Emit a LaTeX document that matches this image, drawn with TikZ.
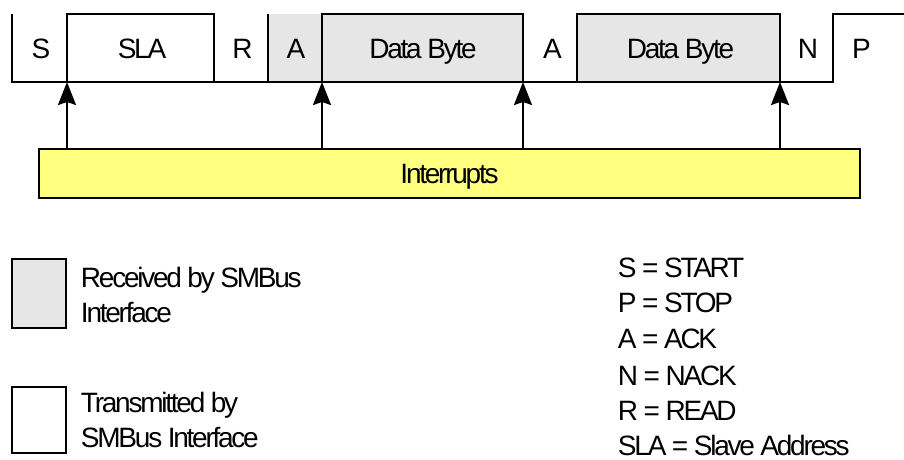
\documentclass[tikz,border=0pt]{standalone}
\usepackage{fontspec}
\setmainfont{Liberation Sans}[LetterSpace=-8]
\usetikzlibrary{arrows.meta}
\definecolor{rxgray}{RGB}{230,230,230}
\definecolor{irqyellow}{RGB}{255,255,128}
\begin{document}
\begin{tikzpicture}[x=1pt,y=-1pt,
  line width=1.9pt, line join=miter,
  lbl/.style={font=\fontsize{28}{34}\selectfont, inner sep=0pt, text height=20pt, text depth=0pt},
  legtxt/.style={lbl, anchor=west},
  arr/.style={-{Stealth[length=23pt,width=18pt,inset=3pt]}},
  irqbox/.style={draw, fill=irqyellow, lbl, minimum width=821pt, minimum height=49pt}
  ]
\useasboundingbox (0,0) rectangle (904,459);
% frame cells
\fill[rxgray] (268,14) rectangle (322,82);
\draw[fill=rxgray] (322,14) rectangle (523,82);
\draw[fill=rxgray] (577,14) rectangle (780,82);
\draw (67,14) rectangle (214,82);
\draw (12,14) -- (12,82) -- (833,82) -- (833,14) -- (906,14);
\draw (268,14) -- (268,82);
% cell labels
\node[lbl] (cS) at (41,48) {S};
\node[lbl] (cSLA) at (142,48) {SLA};
\node[lbl] (cR) at (242.5,48) {R};
\node[lbl] (cA1) at (296,48) {A};
\node[lbl] (cD1) at (423,48) {Data Byte};
\node[lbl] (cA2) at (552.5,48) {A};
\node[lbl] (cD2) at (680.5,48) {Data Byte};
\node[lbl] (cN) at (808,48) {N};
\node[lbl] (cP) at (861.5,48) {P};
% interrupts
\node[irqbox] (irq) at (449.5,173.5) {Interrupts};
\coordinate (t1) at (67,82);
\coordinate (t2) at (322,82);
\coordinate (t3) at (523,82);
\coordinate (t4) at (780,82);
\foreach \t in {t1,t2,t3,t4}
  \draw[arr] (\t |- irq.north) -- (\t);
% legend
\draw[fill=rxgray] (12,259) rectangle (66,328);
\draw (12,387) rectangle (66,453);
\node[legtxt] (l1) at (80,277) {Received by SMBus};
\node[legtxt] (l2) at (80,312) {Interface};
\node[legtxt] (l3) at (80,402) {Transmitted by};
\node[legtxt] (l4) at (80,437) {SMBus Interface};
\node[legtxt] (k1) at (617,267) {S = START};
\node[legtxt] (k2) at (617,302) {P = STOP};
\node[legtxt] (k3) at (617,338) {A = ACK};
\node[legtxt] (k4) at (617,375) {N = NACK};
\node[legtxt] (k5) at (617,410) {R = READ};
\node[legtxt] (k6) at (617,445) {SLA = Slave Address};
\end{tikzpicture}
\end{document}
